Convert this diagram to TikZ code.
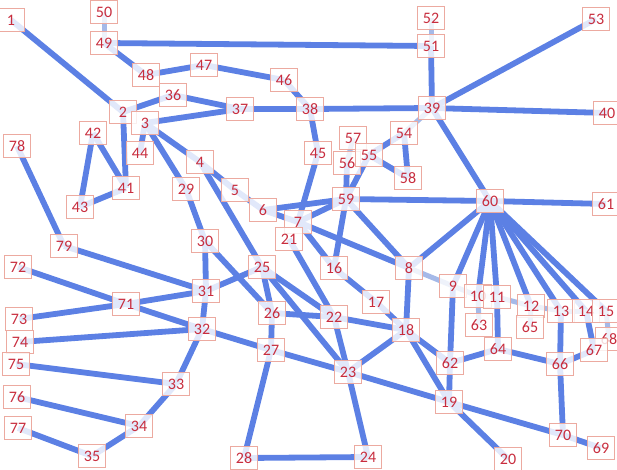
\documentclass[tikz,border=0pt]{standalone}
\usepackage{fontspec}
\setmainfont{Carlito}
\usetikzlibrary{backgrounds}
\definecolor{edgeblue}{RGB}{92,128,228}
\definecolor{edgelight}{RGB}{165,185,232}
\definecolor{boxline}{RGB}{236,170,160}
\definecolor{numred}{RGB}{200,45,62}
\begin{document}
\begin{tikzpicture}[x=1pt,y=-1pt,
  nd/.style={draw=boxline, line width=0.7pt, fill=white, fill opacity=0.82, text opacity=1,
    text=numred, minimum width=27pt, minimum height=23pt, inner sep=0pt,
    font=\fontsize{16}{18}\selectfont},
  ed/.style={draw=edgeblue, line width=5.8pt},
  el/.style={draw=edgelight, line width=5pt}]
\path[use as bounding box] (0,0) rectangle (617,469);
\clip (0,0) rectangle (617,469);
\foreach \n/\x/\y in {1/11/20, 50/104/12, 49/104/43, 48/146/75, 47/204/65, 36/173/95,
  2/123/112, 3/145/123, 37/240/109, 46/284/80, 38/310/109, 39/432/108, 51/431/46,
  52/431/18, 53/596/19, 40/607/113, 42/93/133, 44/140/153, 41/126/188, 43/80/207,
  78/17/146, 4/200/162, 29/186/189, 5/235/190, 6/263/210, 7/298/222, 21/289/239,
  45/318/153, 57/353/138, 56/347/163, 55/369/155, 54/404/133, 58/408/178, 59/346/199,
  60/490/201, 61/606/204, 30/205/241, 79/64/246, 72/18/267, 71/126/304, 31/206/291,
  25/262/267, 16/334/268, 17/376/302, 8/409/268, 9/453/286, 10/478/296, 11/497/297,
  12/531/306, 13/561/311, 14/586/311, 15/606/311, 63/479/325, 65/530/327, 68/609/339,
  67/594/350, 64/498/349, 62/450/363, 66/560/364, 18/406/330, 26/272/313, 22/334/317,
  32/202/329, 73/19/319, 74/20/342, 75/16/364, 27/271/350, 23/348/372, 33/176/384,
  76/17/397, 19/449/402, 34/139/426, 70/563/435, 69/601/448, 77/18/428, 35/92/456,
  28/244/458, 24/368/457, 20/508/459}
  \node[nd] (n\n) at (\x,\y) {\n};
\begin{pgfonlayer}{background}
\foreach \a/\b in {1/2, 49/51, 49/48, 48/47, 47/46, 46/38, 2/36, 36/37, 3/37, 37/38,
  38/39, 39/51, 39/53, 39/40, 39/60, 38/45, 45/7, 2/41, 3/44, 42/41, 42/43, 43/41,
  3/4, 3/29, 4/5, 5/6, 6/7, 4/25, 29/30, 30/31, 30/26, 6/59, 7/59, 7/8, 7/16, 16/17,
  17/18, 21/22, 25/31, 25/26, 25/22, 25/23, 26/27, 26/22, 27/28, 32/27, 27/23, 22/18,
  22/23, 23/24, 28/24, 23/18, 23/19, 19/70, 70/69, 18/62, 18/19, 8/18, 19/20, 62/19,
  9/62, 62/64, 64/66, 66/67, 66/70, 13/66, 14/67, 11/64, 60/59, 60/61, 60/8, 60/9,
  60/10, 60/11, 60/12, 60/13, 60/14, 60/15, 59/56, 59/55, 55/54, 55/58, 54/58, 59/16,
  59/8, 78/79, 79/31, 72/71, 71/31, 71/32, 73/71, 74/32, 75/33, 76/34, 77/35, 34/35,
  33/34, 32/33, 31/32}
  \draw[ed] (n\a.center) -- (n\b.center);
\foreach \a/\b in {50/49, 51/52, 39/54, 8/9, 9/10, 10/11, 11/12, 12/13, 13/14, 14/15,
  15/68, 10/63, 12/65, 56/57}
  \draw[el] (n\a.center) -- (n\b.center);
\end{pgfonlayer}
\end{tikzpicture}
\end{document}
